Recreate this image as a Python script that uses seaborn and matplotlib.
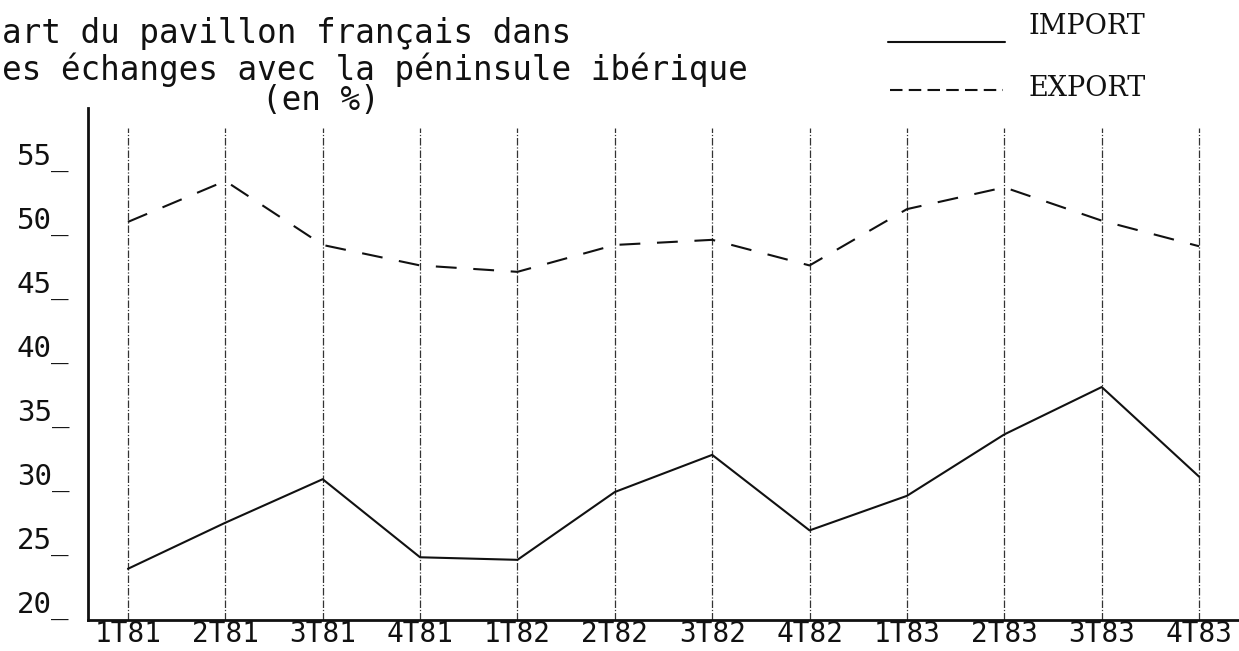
import matplotlib
matplotlib.use("Agg")
import matplotlib.pyplot as plt
import numpy as np
import pandas as pd
import seaborn as sns
from matplotlib.lines import Line2D

# ---------------- data ----------------
quarters = ["1T81", "2T81", "3T81", "4T81", "1T82", "2T82",
            "3T82", "4T82", "1T83", "2T83", "3T83", "4T83"]
import_pct = [24.0, 27.6, 31.0, 24.9, 24.7, 30.0, 32.9, 27.0, 29.7, 34.5, 38.2, 31.2]
export_pct = [51.1, 54.3, 49.3, 47.7, 47.2, 49.3, 49.7, 47.7, 52.1, 53.8, 51.2, 49.2]
series_names = ["IMPORT", "EXPORT"]
y_ticks = [20, 25, 30, 35, 40, 45, 50, 55]
y_tick_labels = [f"{v}_" for v in y_ticks]
title_lines = ["art du pavillon français dans",
               "es échanges avec la péninsule ibérique",
               "(en %)"]

# ---------------- style ----------------
sns.set_theme(style="white")
plt.rcParams["font.family"] = ["DejaVu Sans Mono", "DejaVu Sans"]
INK = "#111111"

W, H = 1239, 651
fig = plt.figure(figsize=(W / 100, H / 100), dpi=100)
fig.patch.set_facecolor("white")

ax_left, ax_bottom_px, ax_top_px = 88, 620, 108
ax = fig.add_axes([ax_left / W, (H - ax_bottom_px) / H,
                   1 - ax_left / W, (ax_bottom_px - ax_top_px) / H])

df = pd.DataFrame({
    "pos": list(range(len(quarters))) * 2,
    "value": import_pct + export_pct,
    "series": [series_names[0]] * len(quarters) + [series_names[1]] * len(quarters),
})

# vertical guide lines at each quarter
ax.vlines(range(len(quarters)), 20, 58.4, color="#333333", linewidth=0.9,
          linestyle=(0, (6, 1.5, 1, 1.5)), zorder=1)

sns.lineplot(data=df, x="pos", y="value", hue="series", style="series",
             palette={"IMPORT": INK, "EXPORT": INK},
             dashes={"IMPORT": "", "EXPORT": (10, 8)},
             linewidth=1.5, legend=False, ax=ax, zorder=3)

ax.set_xlim(-0.41, 11.41)
ax.set_ylim(20, 60)
ax.set_xticks(range(len(quarters)))
ax.set_xticklabels(quarters, fontsize=20, color=INK)
ax.set_yticks(y_ticks)
ax.set_yticklabels(y_tick_labels, fontsize=21, color=INK)
for lab in ax.get_yticklabels():
    lab.set_verticalalignment("bottom")
ax.tick_params(axis="y", length=0, pad=13.5)
ax.tick_params(axis="x", length=0, pad=0)
ax.set_xlabel("")
ax.set_ylabel("")
ax.grid(False)

for s in ["top", "right"]:
    ax.spines[s].set_visible(False)
for s in ["left", "bottom"]:
    ax.spines[s].set_color(INK)
    ax.spines[s].set_linewidth(2)

# ---------------- title ----------------
fig.text(2 / W, 1 - 33 / H, title_lines[0], fontsize=23.5, color=INK,
         ha="left", va="center")
fig.text(2 / W, 1 - 70 / H, title_lines[1], fontsize=23.5, color=INK,
         ha="left", va="center")
fig.text(262 / W, 1 - 101 / H, title_lines[2], fontsize=23.5, color=INK,
         ha="left", va="center")

# ---------------- legend ----------------
fig.add_artist(Line2D([888 / W, 1005 / W], [1 - 42 / H, 1 - 42 / H],
                      color=INK, linewidth=1.5, transform=fig.transFigure))
fig.add_artist(Line2D([890 / W, 1003 / W], [1 - 90 / H, 1 - 90 / H],
                      color=INK, linewidth=1.5, dashes=(6, 3),
                      transform=fig.transFigure))
fig.text(1029 / W, 1 - 26 / H, series_names[0], fontsize=19.5, color=INK,
         ha="left", va="center", family=["DejaVu Serif", "DejaVu Sans"])
fig.text(1029 / W, 1 - 88 / H, series_names[1], fontsize=19.5, color=INK,
         ha="left", va="center", family=["DejaVu Serif", "DejaVu Sans"])

fig.savefig("out.png", dpi=100, facecolor="white")
